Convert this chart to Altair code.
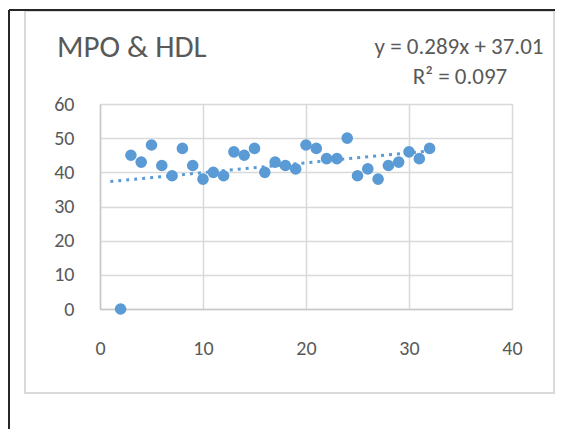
import altair as alt
import pandas as pd

# ---- data ----
x_vals = list(range(2, 33))
y_vals = [0, 45, 43, 48, 42, 39, 47, 42, 38, 40, 39, 46, 45, 47, 40, 43,
          42, 41, 48, 47, 44, 44, 50, 39, 41, 38, 42, 43, 46, 44, 47]
x_ticks = [0, 10, 20, 30, 40]
y_ticks = [0, 10, 20, 30, 40, 50, 60]
title_text = "MPO & HDL"
eq_text = ["y = 0.289x + 37.01", "R² = 0.097"]

FONT = "Carlito, Lato, sans-serif"
TXT = "#595959"
BLUE = "#5b9bd5"

df = pd.DataFrame({"x": x_vals, "y": y_vals})
one = pd.DataFrame({"k": [0]})

xs = alt.Scale(domain=[0, 40], nice=False)
ys = alt.Scale(domain=[0, 60], nice=False)

x_axis = alt.Axis(values=x_ticks, grid=True, gridColor="#d9d9d9", gridWidth=1.5,
                  domainColor="#c8c8c8", domainWidth=1.5, ticks=False,
                  labelFontSize=20, labelColor=TXT, labelFont=FONT,
                  labelPadding=29, labelFlush=False, labelOverlap=False, title=None)
y_axis = alt.Axis(values=y_ticks, grid=True, gridColor="#d9d9d9", gridWidth=1.5,
                  domainColor="#c8c8c8", domainWidth=1.5, ticks=False,
                  labelFontSize=20, labelColor=TXT, labelFont=FONT,
                  labelPadding=26, labelBaseline="middle", labelFlush=False,
                  labelOverlap=False, title=None)

points = alt.Chart(df).mark_circle(size=135, color=BLUE, opacity=1).encode(
    x=alt.X("x:Q", scale=xs, axis=x_axis),
    y=alt.Y("y:Q", scale=ys, axis=y_axis),
)

trend = alt.Chart(df).transform_regression(
    "x", "y", method="linear", extent=[1, 32]
).mark_line(color=BLUE, strokeWidth=3, strokeDash=[3, 5]).encode(
    x=alt.X("x:Q", scale=xs, axis=x_axis),
    y=alt.Y("y:Q", scale=ys, axis=y_axis),
)

frame = alt.Chart(one).mark_rect(filled=False, stroke="#d9d9d9", strokeWidth=2).encode(
    x=alt.value(-75), x2=alt.value(454), y=alt.value(-93), y2=alt.value(289)
)
top_line = alt.Chart(one).mark_rule(color="#262626", strokeWidth=2).encode(
    x=alt.value(-91), x2=alt.value(460), y=alt.value(-94)
)
left_line = alt.Chart(one).mark_rule(color="#262626", strokeWidth=2).encode(
    x=alt.value(-91), y=alt.value(-94), y2=alt.value(325)
)

title = alt.Chart(one).mark_text(
    text=title_text, font=FONT, fontSize=31, color=TXT, align="left", baseline="middle"
).encode(x=alt.value(-43), y=alt.value(-56))

eq1 = alt.Chart(one).mark_text(
    text=eq_text[0], font=FONT, fontSize=23, color=TXT, align="center", baseline="middle"
).encode(x=alt.value(359), y=alt.value(-57))
eq2 = alt.Chart(one).mark_text(
    text=eq_text[1], font=FONT, fontSize=23, color=TXT, align="center", baseline="middle"
).encode(x=alt.value(360), y=alt.value(-27))

chart = alt.layer(frame, top_line, left_line, points, trend, title, eq1, eq2).properties(
    width=412, height=205,
    padding={"left": 92, "top": 96, "right": 43, "bottom": 120},
    autosize=alt.AutoSizeParams(type="none"),
).configure_view(stroke=None).configure(background="white")

chart.save("out.html", embed_options={"renderer": "svg", "actions": False})
